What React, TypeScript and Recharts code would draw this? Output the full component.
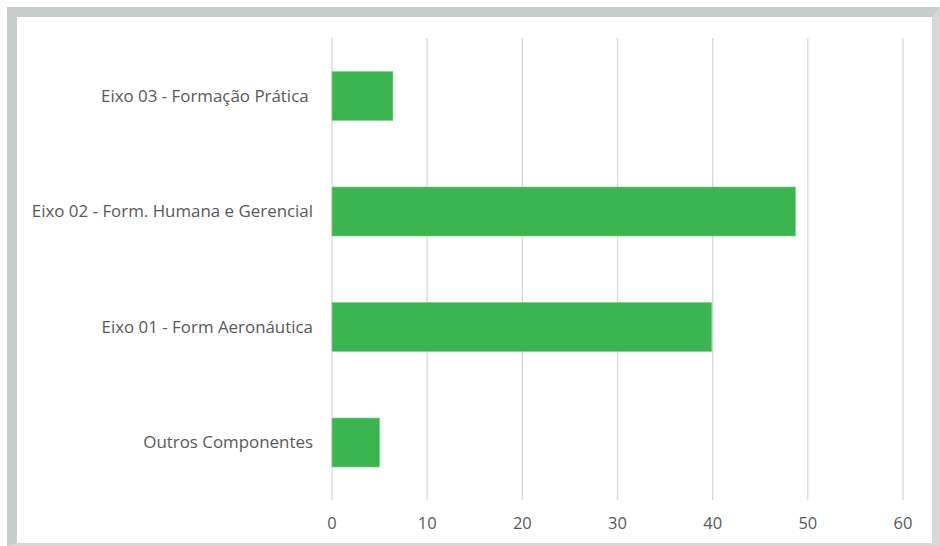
import React from "react";
import { BarChart, Bar, XAxis, YAxis, CartesianGrid } from "recharts";

const categories = [
  "Eixo 03 - Formação Prática\u00A0",
  "Eixo 02 - Form. Humana e Gerencial",
  "Eixo 01 - Form Aeronáutica",
  "Outros Componentes",
];
const values = [6.4, 48.7, 39.9, 5.0];
const xTicks = [0, 10, 20, 30, 40, 50, 60];

const data = categories.map((name, i) => ({ name, value: values[i] }));

const FONT = "'Open Sans', sans-serif";

export default function App() {
  return (
    <div style={{ position: "absolute", left: 0, top: 0, width: 940, height: 546, background: "#fff" }}>
      <div
        style={{
          position: "absolute",
          left: 7,
          top: 7,
          width: 915,
          height: 526,
          borderTop: "10px solid #c9cccc",
          borderLeft: "10px solid #c9cccc",
          borderRight: "8px solid #d6d8d8",
          borderBottom: "3px solid #d6d8d8",
          background: "#fff",
        }}
      />
      <div style={{ position: "absolute", left: 0, top: 0 }}>
        <BarChart
          width={940}
          height={546}
          data={data}
          layout="vertical"
          margin={{ top: 38, right: 37, bottom: 0, left: 0 }}
          barCategoryGap="29%"
        >
          <CartesianGrid horizontal={false} vertical={true} stroke="#d9d9d9" strokeWidth={1.3} />
          <XAxis
            type="number"
            domain={[0, 60]}
            ticks={xTicks}
            axisLine={false}
            tickLine={false}
            height={46}
            tickMargin={11}
            tick={{ fill: "#595959", fontSize: 16.5, fontFamily: FONT }}
          />
          <YAxis
            type="category"
            dataKey="name"
            width={332}
            axisLine={false}
            tickLine={false}
            tickMargin={13}
            interval={0}
            tick={{ fill: "#595959", fontSize: 16.9, fontFamily: FONT }}
          />
          <Bar dataKey="value" fill="#3ab54f" stroke="#7fd08c" strokeWidth={0.6} isAnimationActive={false} />
        </BarChart>
      </div>
    </div>
  );
}
